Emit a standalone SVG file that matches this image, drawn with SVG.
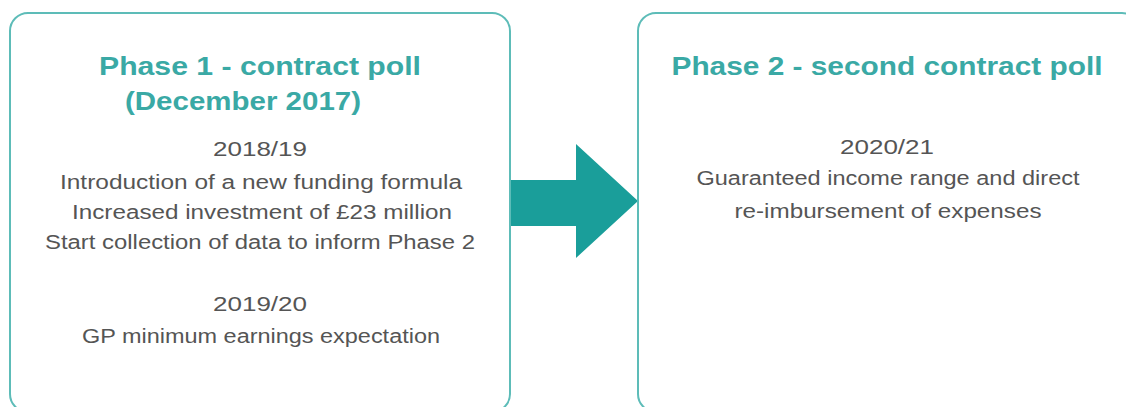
<svg xmlns="http://www.w3.org/2000/svg" width="1126" height="407" viewBox="0 0 1126 407">
<style>
.box{fill:#fff;stroke:#5dbcb8;stroke-width:2}
.title{font-family:"Liberation Sans",Arial,sans-serif;font-weight:bold;font-size:26px;fill:#3aa9a5;text-anchor:middle}
.body{font-family:"Liberation Sans",Arial,sans-serif;font-size:20px;fill:#555;text-anchor:middle}
.arrow{fill:#1a9e9a}
</style>
<rect width="1126" height="407" fill="#fff"/>
<g id="connectors">
<polygon class="arrow" points="505,180 576,180 576,144 638,201 576,258 576,226 505,226"/>
</g>
<g id="phase1">
<rect class="box" x="10" y="13" width="500" height="399" rx="18"/>
<text class="title" x="260" y="75" textLength="322" lengthAdjust="spacingAndGlyphs">Phase 1 - contract poll</text>
<text class="title" x="243" y="110" textLength="236" lengthAdjust="spacingAndGlyphs">(December 2017)</text>
<text class="body" x="260" y="156" textLength="94" lengthAdjust="spacingAndGlyphs">2018/19</text>
<text class="body" x="261" y="189" textLength="402" lengthAdjust="spacingAndGlyphs">Introduction of a new funding formula</text>
<text class="body" x="262" y="219" textLength="380" lengthAdjust="spacingAndGlyphs">Increased investment of £23 million</text>
<text class="body" x="260" y="249" textLength="430" lengthAdjust="spacingAndGlyphs">Start collection of data to inform Phase 2</text>
<text class="body" x="260" y="311" textLength="94" lengthAdjust="spacingAndGlyphs">2019/20</text>
<text class="body" x="261" y="343" textLength="358" lengthAdjust="spacingAndGlyphs">GP minimum earnings expectation</text>
</g>
<g id="phase2">
<rect class="box" x="638" y="13" width="502" height="399" rx="18"/>
<text class="title" x="887" y="75" textLength="431" lengthAdjust="spacingAndGlyphs">Phase 2 - second contract poll</text>
<text class="body" x="887" y="154" textLength="94" lengthAdjust="spacingAndGlyphs">2020/21</text>
<text class="body" x="888" y="185" textLength="383" lengthAdjust="spacingAndGlyphs">Guaranteed income range and direct</text>
<text class="body" x="888" y="218" textLength="307" lengthAdjust="spacingAndGlyphs">re-imbursement of expenses</text>
</g>
</svg>
